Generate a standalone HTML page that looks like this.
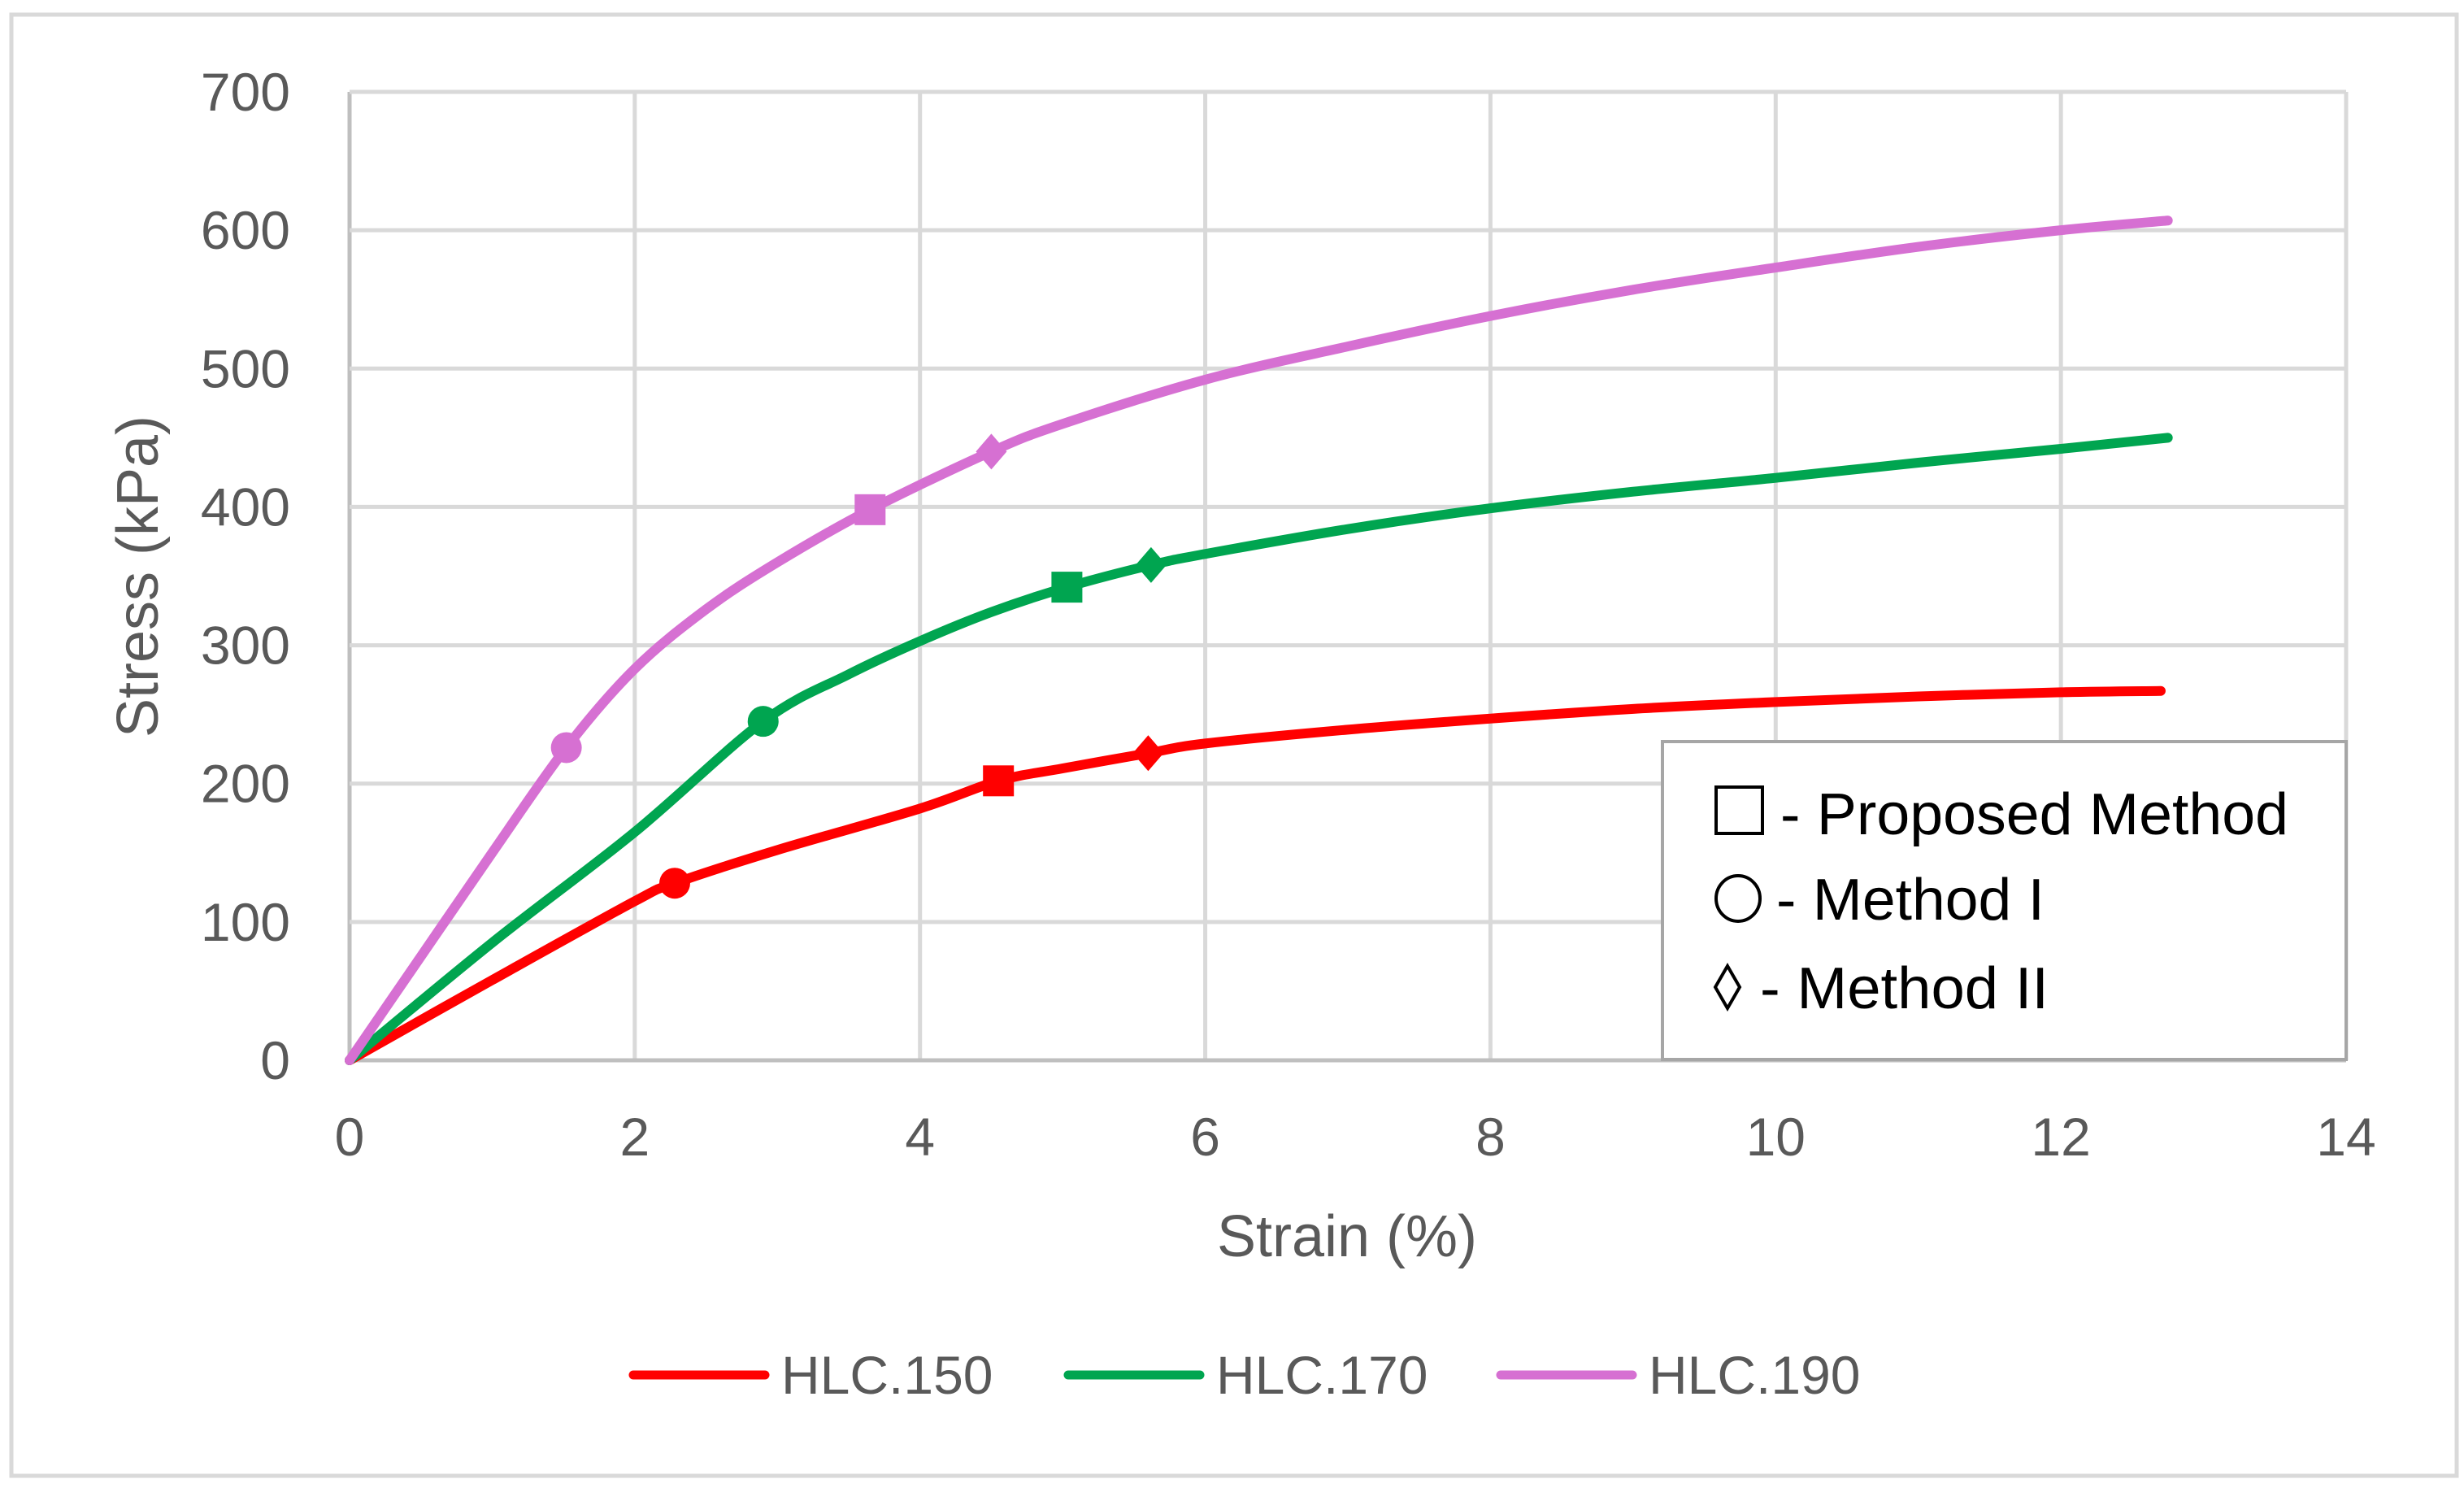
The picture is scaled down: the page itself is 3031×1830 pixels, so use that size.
<!DOCTYPE html>
<html><head><meta charset="utf-8"><style>
html,body{margin:0;padding:0;background:#fff;}
svg{display:block;font-family:"Liberation Sans",sans-serif;}
</style></head><body>
<svg id="chart" width="3031" height="1830" viewBox="0 0 3031 1830">
<rect x="14" y="18" width="3008" height="1797" fill="#fff" stroke="#d9d9d9" stroke-width="5"/>
<g id="grid"></g>
<g id="ticks"></g>
<g id="series"></g>
<text x="1657" y="1545" font-size="72" fill="#595959" text-anchor="middle">Strain (%)</text>
<text transform="translate(194,709) rotate(-90)" font-size="72" fill="#595959" text-anchor="middle">Stress (kPa)</text>
<g>
<rect x="2045" y="912" width="841" height="391" fill="#fff" stroke="#a6a6a6" stroke-width="4"/>
<rect x="2111" y="968" width="57" height="57" fill="none" stroke="#000" stroke-width="4"/>
<text x="2190" y="1026" font-size="72" fill="#000" textLength="625" lengthAdjust="spacingAndGlyphs">- Proposed Method</text>
<ellipse cx="2138" cy="1105" rx="27" ry="28" fill="none" stroke="#000" stroke-width="4"/>
<text x="2185" y="1131" font-size="72" fill="#000" textLength="330" lengthAdjust="spacingAndGlyphs">- Method I</text>
<path d="M2125,1188 L2140,1214 L2125,1240 L2110,1214 Z" fill="none" stroke="#000" stroke-width="4"/>
<text x="2165" y="1240" font-size="72" fill="#000" textLength="355" lengthAdjust="spacingAndGlyphs">- Method II</text>
</g>
<g id="legend"></g>
</svg>
<script>
const xTicks = [0,2,4,6,8,10,12,14];
const yTicks = [0,100,200,300,400,500,600,700];
const seriesNames = ["HLC.150","HLC.170","HLC.190"];
const colors = ["#ff0000","#00a550","#d670d2"];
const strain150 = [0,1,2,2.28,3,4,4.55,5,5.6,6,7,8,9,10,11,12,12.7];
const stress150 = [0,58,115,128,152,182,202,211,222,229,239,247,254,259,263,266,267];
const strain170 = [0,1,2,2.9,3.5,4,4.5,5.03,5.62,6,7,8,9,10,11,12,12.75];
const stress170 = [0,85,165,245,279,303,324,342,358,366,384,399,411,421,432,442,450];
const strain190 = [0,0.5,1,1.52,2,2.5,3,3.65,4.5,5,6,7,8,9,10,11,12,12.75];
const stress190 = [0,75,150,226,283,326,360,398,440,460,492,516,538,557,573,588,600,607];
const markStrain150 = [2.28,4.55,5.6];
const markStress150 = [128,202,222];
const markStrain170 = [2.9,5.03,5.62];
const markStress170 = [245,342,358];
const markStrain190 = [1.52,3.65,4.5];
const markStress190 = [226,398,440];
const markTypes = ["circle","square","diamond"];

const NS="http://www.w3.org/2000/svg";
const X0=430,X1=2886,Y0=1304,Y1=113;
const sx=v=>X0+(v-0)/(14-0)*(X1-X0);
const sy=v=>Y0-(v-0)/(700-0)*(Y0-Y1);
function mk(tag,parent){const e=document.createElementNS(NS,tag);parent.appendChild(e);return e;}
const grid=document.getElementById('grid'),ticks=document.getElementById('ticks'),ser=document.getElementById('series'),leg=document.getElementById('legend');
xTicks.forEach(t=>{
  const l=mk('line',grid);l.setAttribute('x1',sx(t));l.setAttribute('x2',sx(t));l.setAttribute('y1',Y1);l.setAttribute('y2',Y0);
  l.setAttribute('stroke',t===0?'#bfbfbf':'#d9d9d9');l.setAttribute('stroke-width',5);
  
  
  const s=mk('text',ticks);s.setAttribute('x',sx(t));s.setAttribute('y',1421);s.setAttribute('font-size',66);s.setAttribute('fill','#595959');s.setAttribute('text-anchor','middle');s.textContent=t;
  
  
});
yTicks.forEach(t=>{
  const l=mk('line',grid);l.setAttribute('x1',X0);l.setAttribute('x2',X1);l.setAttribute('y1',sy(t));l.setAttribute('y2',sy(t));
  l.setAttribute('stroke',t===0?'#bfbfbf':'#d9d9d9');l.setAttribute('stroke-width',5);
  
  
  const s=mk('text',ticks);s.setAttribute('x',357);s.setAttribute('y',sy(t)+23);s.setAttribute('font-size',66);s.setAttribute('fill','#595959');s.setAttribute('text-anchor','end');s.textContent=t;
  
  
});
function pathFrom(xs,ys){
  const p=xs.map((x,i)=>[sx(x),sy(ys[i])]);
  let d=`M${p[0][0]},${p[0][1]}`;
  for(let i=0;i<p.length-1;i++){
    const a=p[Math.max(i-1,0)],b=p[i],c=p[i+1],e=p[Math.min(i+2,p.length-1)];
    const c1=[b[0]+(c[0]-a[0])/6,b[1]+(c[1]-a[1])/6],c2=[c[0]-(e[0]-b[0])/6,c[1]-(e[1]-b[1])/6];
    d+=` C${c1[0]},${c1[1]} ${c2[0]},${c2[1]} ${c[0]},${c[1]}`;
  }
  return d;
}
const data=[[strain150,stress150,markStrain150,markStress150],[strain170,stress170,markStrain170,markStress170],[strain190,stress190,markStrain190,markStress190]];
data.forEach((s,k)=>{
  const p=mk('path',ser);p.setAttribute('d',pathFrom(s[0],s[1]));p.setAttribute('fill','none');p.setAttribute('stroke',colors[k]);p.setAttribute('stroke-width',12);p.setAttribute('stroke-linecap','round');p.setAttribute('stroke-linejoin','round');
  
  
  s[2].forEach((mx,j)=>{
    const cx=sx(mx),cy=sy(s[3][j]);let m;
    if(markTypes[j]==='circle'){m=mk('circle',ser);m.setAttribute('cx',cx);m.setAttribute('cy',cy);m.setAttribute('r',19);}
    else if(markTypes[j]==='square'){m=mk('rect',ser);m.setAttribute('x',cx-19);m.setAttribute('y',cy-19);m.setAttribute('width',38);m.setAttribute('height',38);}
    else{m=mk('path',ser);m.setAttribute('d',`M${cx},${cy-22} L${cx+19},${cy} L${cx},${cy+22} L${cx-19},${cy} Z`);}
    m.setAttribute('fill',colors[k]);
    
    
  });
});
const legX=[779,1314,1846];
seriesNames.forEach((n,k)=>{
  const l=mk('line',leg);l.setAttribute('x1',legX[k]);l.setAttribute('x2',legX[k]+162);l.setAttribute('y1',1691);l.setAttribute('y2',1691);l.setAttribute('stroke',colors[k]);l.setAttribute('stroke-width',11);l.setAttribute('stroke-linecap','round');
  
  
  const t=mk('text',leg);t.setAttribute('x',legX[k]+182);t.setAttribute('y',1714);t.setAttribute('font-size',66);t.setAttribute('fill','#595959');t.textContent=n;
  
  
});
</script>
</body></html>
